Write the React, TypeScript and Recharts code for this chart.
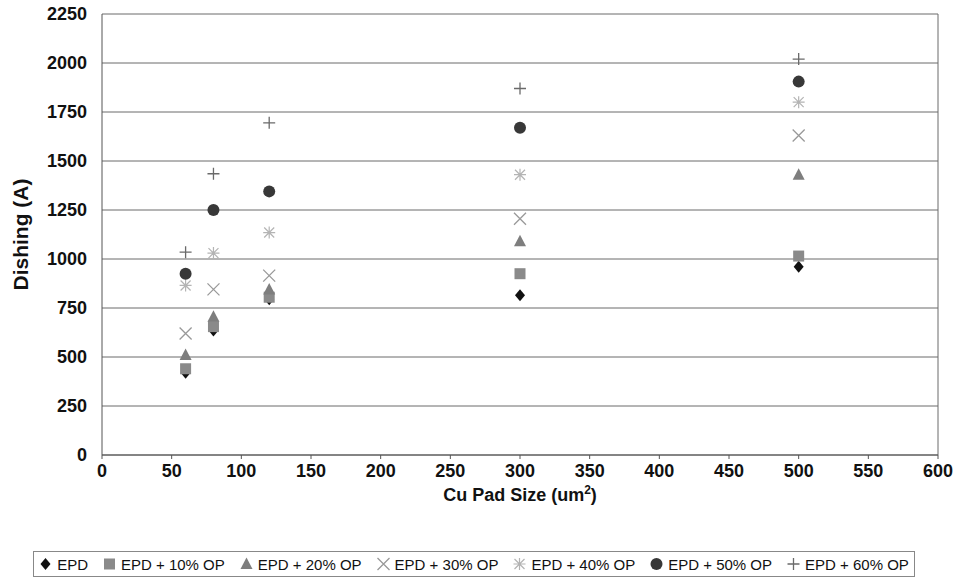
import { CartesianGrid, ReferenceLine, Scatter, ScatterChart, XAxis, YAxis } from "recharts"

const padSizes = [60, 80, 120, 300, 500]
const epd = [420, 635, 795, 815, 960]
const op10 = [440, 655, 805, 925, 1015]
const op20 = [510, 705, 845, 1090, 1430]
const op30 = [620, 845, 915, 1205, 1630]
const op40 = [865, 1030, 1135, 1430, 1800]
const op50 = [925, 1250, 1345, 1670, 1905]
const op60 = [1035, 1435, 1695, 1870, 2020]

const xTicks = [0, 50, 100, 150, 200, 250, 300, 350, 400, 450, 500, 550, 600]
const yTicks = [0, 250, 500, 750, 1000, 1250, 1500, 1750, 2000, 2250]

const FONT = "Arial, 'Liberation Sans', sans-serif"

type Marker = "diamond" | "square" | "triangle" | "x" | "star" | "circle" | "plus"

function drawMarker(kind: Marker, cx: number, cy: number, color: string) {
  switch (kind) {
    case "diamond":
      return <path d={`M${cx},${cy - 6}L${cx + 5},${cy}L${cx},${cy + 6}L${cx - 5},${cy}Z`} fill={color} />
    case "square":
      return <rect x={cx - 5.5} y={cy - 5.5} width={11} height={11} fill={color} />
    case "triangle":
      return <path d={`M${cx},${cy - 6.5}L${cx + 6},${cy + 5}L${cx - 6},${cy + 5}Z`} fill={color} />
    case "circle":
      return <circle cx={cx} cy={cy} r={6} fill={color} />
    case "x":
      return (
        <path d={`M${cx - 6},${cy - 6}L${cx + 6},${cy + 6}M${cx - 6},${cy + 6}L${cx + 6},${cy - 6}`} stroke={color} strokeWidth={1.3} fill="none" />
      )
    case "plus":
      return <path d={`M${cx - 6},${cy}L${cx + 6},${cy}M${cx},${cy - 6}L${cx},${cy + 6}`} stroke={color} strokeWidth={1.3} fill="none" />
    case "star":
      return (
        <path
          d={`M${cx - 5},${cy - 5}L${cx + 5},${cy + 5}M${cx - 5},${cy + 5}L${cx + 5},${cy - 5}M${cx - 6},${cy}L${cx + 6},${cy}M${cx},${cy - 6}L${cx},${cy + 6}`}
          stroke={color}
          strokeWidth={1.2}
          fill="none"
        />
      )
  }
}

const series: { name: string; values: number[]; marker: Marker; color: string }[] = [
  { name: "EPD", values: epd, marker: "diamond", color: "#111111" },
  { name: "EPD + 10% OP", values: op10, marker: "square", color: "#8a8a8a" },
  { name: "EPD + 20% OP", values: op20, marker: "triangle", color: "#7e7e7e" },
  { name: "EPD + 30% OP", values: op30, marker: "x", color: "#999999" },
  { name: "EPD + 40% OP", values: op40, marker: "star", color: "#b4b4b4" },
  { name: "EPD + 50% OP", values: op50, marker: "circle", color: "#383838" },
  { name: "EPD + 60% OP", values: op60, marker: "plus", color: "#6a6a6a" },
]

function YTitle(props: any) {
  const { x, y, height } = props.viewBox
  const cx = x - 22
  const cy = y + height / 2
  return (
    <text x={cx} y={cy} transform={`rotate(-90 ${cx} ${cy})`} textAnchor="middle" dominantBaseline="central" fontFamily={FONT} fontWeight="bold" fontSize={21} fill="#111">
      Dishing (A)
    </text>
  )
}

function XTitle(props: any) {
  const { x, y, width } = props.viewBox
  return (
    <text x={x + width / 2} y={y + 46} textAnchor="middle" fontFamily={FONT} fontWeight="bold" fontSize={18} fill="#111">
      Cu Pad Size (um
      <tspan fontSize={12} dy={-7}>2</tspan>
      <tspan dy={7}>)</tspan>
    </text>
  )
}

export default function App() {
  return (
    <div style={{ position: "fixed", left: 0, top: 0, width: 955, height: 579, overflow: "hidden", background: "#fff", fontFamily: FONT }}>
      <ScatterChart width={955} height={571} margin={{ top: 14, right: 17, bottom: 66, left: 42 }}>
        <CartesianGrid vertical={false} stroke="#6a6a6a" strokeWidth={1} />
        <XAxis
          type="number"
          dataKey="x"
          domain={[0, 600]}
          ticks={xTicks}
          height={50}
          tickSize={4}
          tickMargin={5}
          stroke="#555"
          tick={{ fontSize: 18, fontWeight: "bold", fill: "#111", fontFamily: FONT }}
          label={<XTitle />}
        />
        <YAxis
          type="number"
          dataKey="y"
          domain={[0, 2250]}
          ticks={yTicks}
          width={60}
          tickLine={false}
          tickSize={0}
          tickMargin={15}
          stroke="#555"
          tick={{ fontSize: 18, fontWeight: "bold", fill: "#111", fontFamily: FONT }}
          label={<YTitle />}
        />
        <ReferenceLine x={600} stroke="#6a6a6a" />
        {series.map((s) => (
          <Scatter
            key={s.name}
            name={s.name}
            data={padSizes.map((x, i) => ({ x, y: s.values[i] }))}
            isAnimationActive={false}
            shape={(p: any) => drawMarker(s.marker, p.cx, p.cy, s.color)}
          />
        ))}
      </ScatterChart>
      <div
        style={{
          position: "absolute",
          left: 33,
          top: 551,
          width: 880,
          height: 24,
          border: "1px solid #888",
          display: "flex",
          alignItems: "center",
          justifyContent: "center",
          gap: 15,
          fontSize: 15,
          color: "#111",
          whiteSpace: "nowrap",
        }}
      >
        {series.map((s) => (
          <span key={s.name} style={{ display: "flex", alignItems: "center", gap: 5 }}>
            <svg width={13} height={14}>
              {drawMarker(s.marker, 6.5, 7, s.color)}
            </svg>
            {s.name}
          </span>
        ))}
      </div>
    </div>
  )
}
